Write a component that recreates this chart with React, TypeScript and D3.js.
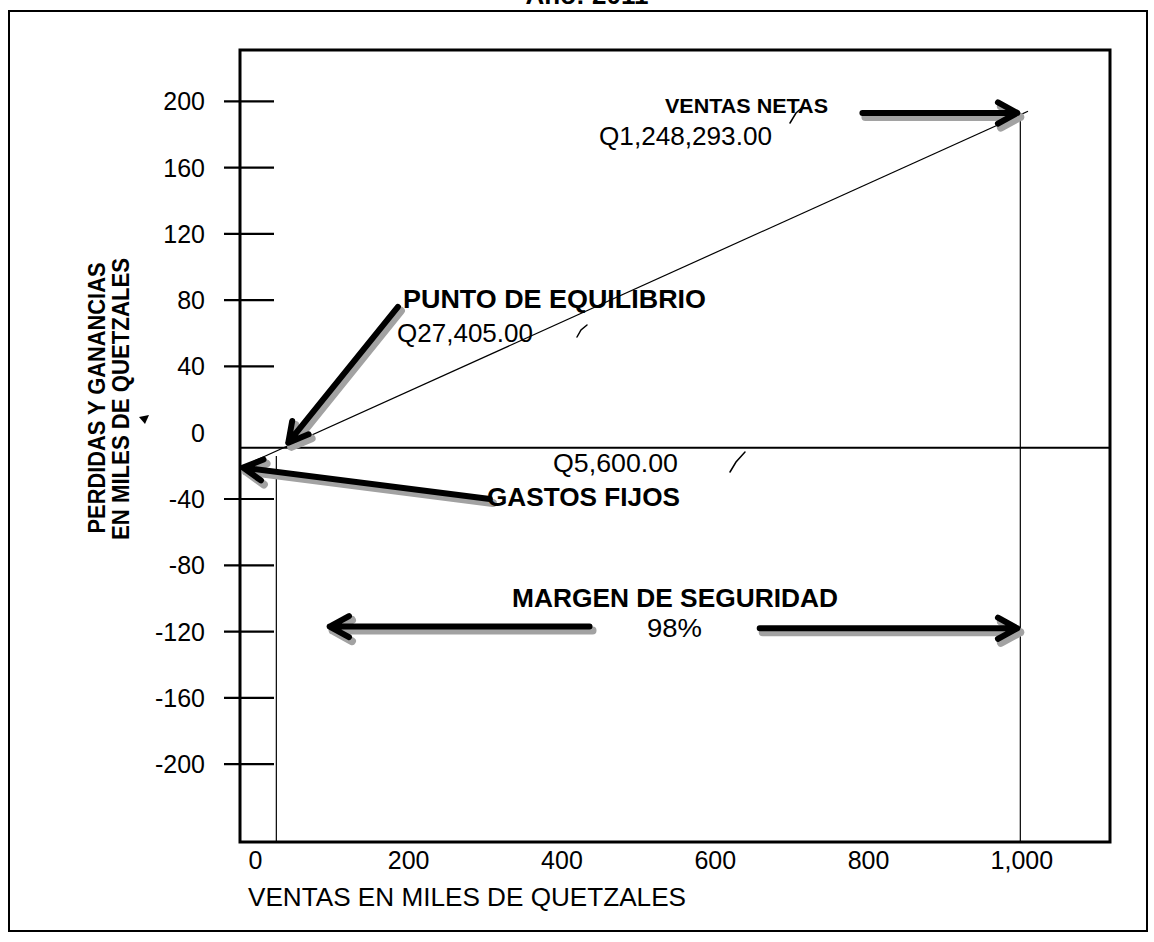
import React from 'react';
import * as d3 from 'd3';

const W = 1154;
const H = 942;

// ticks of both axes (miles de quetzales)
const yTicks = [200, 160, 120, 80, 40, 0, -40, -80, -120, -160, -200];
const xTicks = [0, 200, 400, 600, 800, 1000];
const xTickLabels = ['0', '200', '400', '600', '800', '1,000'];

// profit line: [ventas, resultado]
const lineaResultado: [number, number][] = [[-20, -21], [1008, 194]];
const nivelCero = -9; // base line, drawn a bit under the 0 tick in the original
const puntoEquilibrio = 27.4;
const ventasNetas = 998;
const resultadoVentas = 192;

// annotation arrows, tail -> tip, in chart units
const flechas: { from: [number, number]; to: [number, number] }[] = [
  { from: [792, 193], to: [994, 193] },
  { from: [186, 76], to: [43, -6] },
  { from: [306, -40], to: [-16, -21] },
  { from: [436, -117], to: [97, -117] },
  { from: [658, -118], to: [994, -118] },
];

const FONT = '"Liberation Sans", Arial, sans-serif';

const x = d3.scaleLinear().domain([-20, 1115]).range([240, 1110]);
const y = d3.scaleLinear().domain([-247, 231]).range([842, 50]);

function arrowPath(t: [number, number], h: [number, number]) {
  const x1 = x(t[0]), y1 = y(t[1]), x2 = x(h[0]), y2 = y(h[1]);
  const a = Math.atan2(y2 - y1, x2 - x1);
  const L = 22, th = 0.5;
  const w1 = [x2 - L * Math.cos(a - th), y2 - L * Math.sin(a - th)];
  const w2 = [x2 - L * Math.cos(a + th), y2 - L * Math.sin(a + th)];
  return `M${x1},${y1}L${x2},${y2}M${w1[0]},${w1[1]}L${x2},${y2}L${w2[0]},${w2[1]}`;
}

export default function App() {
  const line = d3.line<[number, number]>().x(d => x(d[0])).y(d => y(d[1]));
  const [x0, x1] = x.range();
  const [yb, yt] = y.range();

  return (
    <svg width={W} height={H} style={{ position: 'absolute', left: 0, top: 0, background: '#fff' }} fontFamily={FONT}>
      {/* title, cut off at the top of the scan */}
      <text x={587} y={4} textAnchor="middle" fontWeight="bold" fontSize={26}>Año: 2011</text>
      {/* outer frame */}
      <rect x={9} y={11} width={1138} height={920} fill="none" stroke="#000" strokeWidth={2} />

      {/* plot box */}
      <rect x={x0} y={yt} width={x1 - x0} height={yb - yt} fill="none" stroke="#000" strokeWidth={3} />

      {/* y ticks */}
      {yTicks.map(v => (
        <g key={v}>
          {v !== 0 && <line x1={x0 - 16} x2={x0 + 34} y1={y(v)} y2={y(v)} stroke="#000" strokeWidth={2.2} />}
          <text x={205} y={y(v)} dy="0.36em" textAnchor="end" fontSize={25}>{v}</text>
        </g>
      ))}

      {/* x tick labels */}
      {xTicks.map((v, i) => (
        <text key={v} x={x(v)} y={869} textAnchor="middle" fontSize={25}>{xTickLabels[i]}</text>
      ))}
      <text x={248} y={906} fontSize={25} textLength={438} lengthAdjust="spacingAndGlyphs">VENTAS EN MILES DE QUETZALES</text>

      {/* y title */}
      <g fontWeight="bold" fontSize={23}>
        <text transform={`translate(105,398) rotate(-90)`} textAnchor="middle" textLength={271} lengthAdjust="spacingAndGlyphs">PERDIDAS Y GANANCIAS</text>
        <text transform={`translate(129,399) rotate(-90)`} textAnchor="middle" textLength={282} lengthAdjust="spacingAndGlyphs">EN MILES DE QUETZALES</text>
      </g>

      {/* base line */}
      <line x1={x0} x2={x1} y1={y(nivelCero)} y2={y(nivelCero)} stroke="#000" strokeWidth={2} />
      {/* vertical guides */}
      <line x1={x(puntoEquilibrio)} x2={x(puntoEquilibrio)} y1={y(nivelCero - 5)} y2={yb} stroke="#000" strokeWidth={1.2} />
      <line x1={x(ventasNetas)} x2={x(ventasNetas)} y1={y(resultadoVentas)} y2={yb} stroke="#000" strokeWidth={1.2} />
      {/* profit line */}
      <path d={line(lineaResultado) || ''} fill="none" stroke="#000" strokeWidth={1.2} />

      {/* arrows: grey shadow then black */}
      {flechas.map((f, i) => (
        <g key={i} fill="none" strokeLinecap="round" strokeLinejoin="round">
          <path d={arrowPath(f.from, f.to)} transform="translate(3,4)" stroke="#a2a2a2" strokeWidth={8} />
          <path d={arrowPath(f.from, f.to)} stroke="#000" strokeWidth={6} />
        </g>
      ))}

      {/* annotations */}
      <text x={665} y={113} fontWeight="bold" fontSize={20} textLength={163} lengthAdjust="spacingAndGlyphs">VENTAS NETAS</text>
      <text x={599} y={145} fontSize={25} textLength={173} lengthAdjust="spacingAndGlyphs">Q1,248,293.00</text>
      <text x={403} y={308} fontWeight="bold" fontSize={25} textLength={303} lengthAdjust="spacingAndGlyphs">PUNTO DE EQUILIBRIO</text>
      <text x={397} y={342} fontSize={25} textLength={136} lengthAdjust="spacingAndGlyphs">Q27,405.00</text>
      <text x={553} y={472} fontSize={25} textLength={125} lengthAdjust="spacingAndGlyphs">Q5,600.00</text>
      <text x={487} y={506} fontWeight="bold" fontSize={25} textLength={193} lengthAdjust="spacingAndGlyphs">GASTOS FIJOS</text>
      <text x={512} y={607} fontWeight="bold" fontSize={26} textLength={326} lengthAdjust="spacingAndGlyphs">MARGEN DE SEGURIDAD</text>
      <text x={647} y={637} fontSize={25} textLength={55} lengthAdjust="spacingAndGlyphs">98%</text>

      {/* small hand marks on the scan */}
      <g fill="none" stroke="#000" strokeWidth={1.5} strokeLinecap="round">
        <path d="M790,123 L796,113 L803,107" />
        <path d="M577,337 L581,330 L587,325" />
        <path d="M730,472 L736,462 L745,452" />
      </g>
      <path d="M139,417 L149,415 L145,424 Z" fill="#000" />
    </svg>
  );
}
